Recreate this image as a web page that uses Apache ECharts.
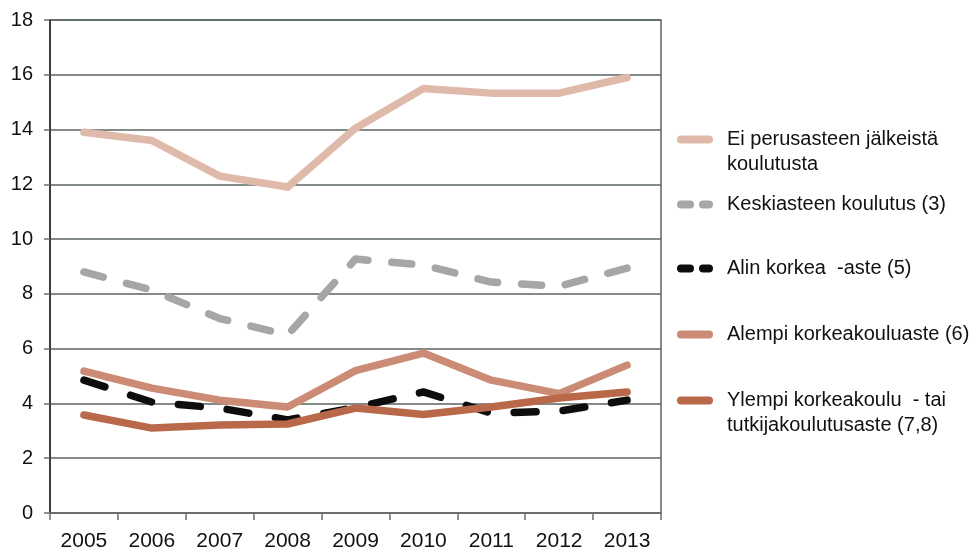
<!DOCTYPE html>
<html><head><meta charset="utf-8">
<script src="https://cdn.jsdelivr.net/npm/echarts@6/dist/echarts.min.js"></script>
<style>html,body{margin:0;padding:0;background:#fff}#c{width:973px;height:550px}</style>
</head><body><div id="c"></div>
<script>
const years = ['2005','2006','2007','2008','2009','2010','2011','2012','2013'];
const yTicks = [0,2,4,6,8,10,12,14,16,18];
const eiPerus   = [13.9, 13.6, 12.3, 11.9, 14.05, 15.5, 15.33, 15.33, 15.9];
const keskiaste = [8.8, 8.14, 7.1, 6.5, 9.27, 9.05, 8.43, 8.28, 8.94];
const alinKorkea= [4.85, 4.05, 3.83, 3.4, 3.85, 4.42, 3.65, 3.72, 4.12];
const alempi    = [5.18, 4.56, 4.12, 3.87, 5.2, 5.84, 4.85, 4.36, 5.4];
const ylempi    = [3.58, 3.1, 3.21, 3.25, 3.83, 3.6, 3.87, 4.2, 4.42];
const names = ['Ei perusasteen jälkeistä\nkoulutusta','Keskiasteen koulutus (3)','Alin korkea  -aste (5)','Alempi korkeakouluaste (6)','Ylempi korkeakoulu  - tai\ntutkijakoulutusaste (7,8)'];

const colors = ['#dfb9a9','#a6a6a6','#0d0d0d','#cc8b74','#b9694a'];
const seriesDash = ['solid',[20,24],[22,27],'solid','solid'];
const legendDash = ['solid',[9,13],[9,13],'solid','solid'];
const iconY = [138,204,268,334,399];
const twoLine = [true,false,false,false,true];
const FONT = '"Liberation Sans", Arial, sans-serif';

const dataArr = [eiPerus,keskiaste,alinKorkea,alempi,ylempi];
const order = [1,0,2,3,4];
const series = order.map(i => ({
  name: names[i], type: 'line', data: dataArr[i], symbol: 'none', z: 2+i,
  lineStyle: {color: colors[i], width: 7.5, type: seriesDash[i], cap: 'round', join: 'round'},
  itemStyle: {color: colors[i]}
}));

const legends = names.map((n,i) => ({
  data: [n], orient: 'vertical', left: 677, top: twoLine[i] ? iconY[i]-36 : iconY[i]-12,
  padding: 0, itemWidth: 28, itemHeight: 8, selectedMode: false,
  formatter: nm => twoLine[i] ? '\n' + nm : nm,
  itemStyle: {color: 'transparent', borderWidth: 0, opacity: 0},
  lineStyle: {width: 8, type: legendDash[i], cap: 'round', color: colors[i]},
  textStyle: {fontFamily: FONT, fontSize: 20, color: '#111', lineHeight: 25, padding: [0,0,0,13]}
}));

const chart = echarts.init(document.getElementById('c'));
chart.setOption({
  animation: false,
  backgroundColor: '#fff',
  grid: {left: 50, right: 312, top: 20, bottom: 37, show: true, borderColor: '#5a6462', borderWidth: 1.5, backgroundColor: 'transparent', containLabel: false, outerBoundsMode: 'none'},
  legend: legends,
  xAxis: {
    type: 'category', data: years, boundaryGap: true,
    axisLine: {lineStyle: {color: '#6d6d6d', width: 1.5}},
    axisTick: {show: true, length: 7, lineStyle: {color: '#6d6d6d', width: 1.5}},
    axisLabel: {fontFamily: FONT, fontSize: 21, color: '#111', margin: 18}
  },
  yAxis: {
    type: 'value', min: 0, max: 18, interval: 2,
    axisLine: {show: true, lineStyle: {color: '#222', width: 1.5}},
    axisTick: {show: true, length: 6, lineStyle: {color: '#6d6d6d', width: 1.5}},
    axisLabel: {fontFamily: FONT, fontSize: 20, color: '#111', margin: 17},
    splitLine: {lineStyle: {color: '#5a6462', width: 1.5}}
  },
  series: series
});
</script></body></html>
